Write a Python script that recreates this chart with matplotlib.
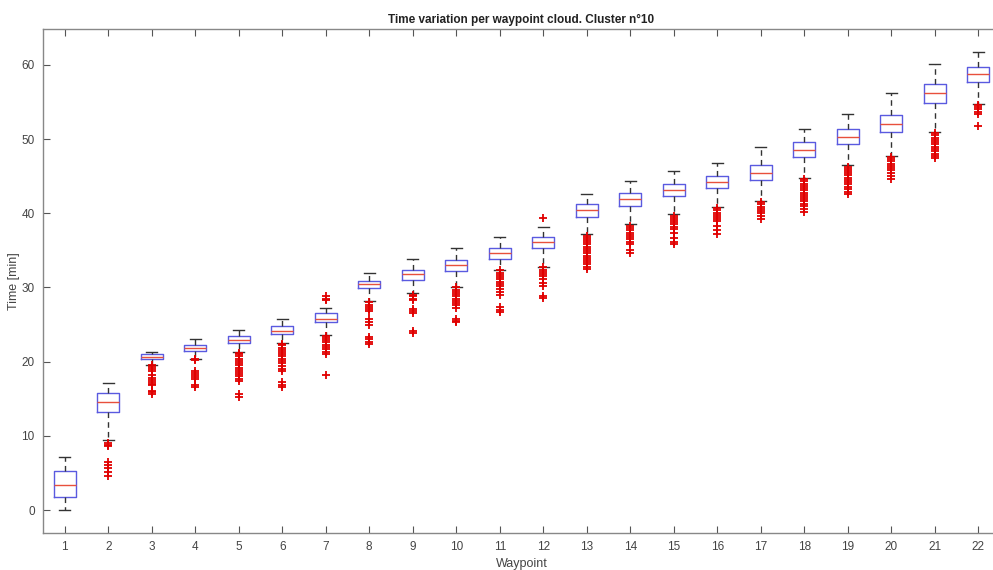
import matplotlib
matplotlib.use("Agg")
import matplotlib.pyplot as plt

plt.rcParams['font.family'] = ['Liberation Sans', 'DejaVu Sans']

# box statistics (minutes)
waypoints = list(range(1, 23))
medians = [3.4, 14.5, 20.6, 21.8, 22.9, 24.2, 25.8, 30.5, 31.8, 33.0, 34.6,
           36.1, 40.4, 41.9, 43.1, 44.2, 45.5, 48.5, 50.3, 52.0, 56.2, 58.8]
q1 = [1.7, 13.2, 20.3, 21.4, 22.5, 23.7, 25.4, 29.9, 31.0, 32.2, 33.8,
      35.3, 39.5, 41.0, 42.3, 43.4, 44.5, 47.6, 49.4, 50.9, 54.9, 57.7]
q3 = [5.2, 15.8, 21.0, 22.2, 23.4, 24.8, 26.5, 30.9, 32.3, 33.7, 35.3,
      36.8, 41.2, 42.7, 44.0, 45.0, 46.5, 49.6, 51.4, 53.2, 57.5, 59.7]
whisk_lo = [0.0, 9.4, 19.6, 20.4, 21.3, 22.5, 23.6, 28.2, 29.2, 30.1, 32.4,
            32.8, 37.2, 38.5, 39.9, 40.8, 41.6, 44.8, 46.5, 47.7, 51.0, 54.8]
whisk_hi = [7.1, 17.1, 21.3, 23.0, 24.3, 25.8, 27.3, 32.0, 33.8, 35.3, 36.8,
            38.2, 42.6, 44.4, 45.7, 46.8, 48.9, 51.4, 53.4, 56.2, 60.1, 61.8]
outliers = [
    [],
    [9.1, 8.8, 8.6, 6.5, 6.1, 5.6, 5.1, 4.6],
    [19.5, 19.3, 19.0, 18.7, 18.2, 17.8, 17.5, 17.2, 17.0, 16.8, 16.1, 15.9, 15.7],
    [20.3, 20.2, 18.8, 18.5, 18.2, 17.9, 17.6, 16.8, 16.6],
    [21.2, 21.0, 20.7, 20.4, 20.1, 19.8, 19.5, 19.2, 18.9, 18.6, 18.3, 18.0, 17.7, 17.4, 15.6, 15.3],
    [22.4, 22.2, 21.9, 21.6, 21.3, 21.0, 20.7, 20.4, 20.1, 19.8, 19.4, 19.0, 18.7, 17.2, 16.8, 16.6],
    [28.8, 28.5, 28.3, 23.5, 23.2, 22.9, 22.6, 22.3, 22.0, 21.7, 21.3, 21.0, 18.2],
    [28.0, 27.7, 27.4, 27.1, 26.8, 25.8, 25.4, 24.9, 23.3, 23.0, 22.7, 22.4],
    [29.0, 28.8, 28.5, 28.3, 27.1, 26.8, 26.5, 24.2, 23.9],
    [30.0, 29.7, 29.4, 29.1, 28.8, 28.5, 28.2, 27.9, 27.6, 27.3, 25.8, 25.5, 25.3],
    [32.3, 32.0, 31.7, 31.4, 31.1, 30.8, 30.5, 30.2, 29.8, 29.4, 29.0, 27.4, 27.0, 26.7],
    [39.4, 32.7, 32.4, 32.1, 31.8, 31.5, 31.2, 30.6, 30.2, 28.9, 28.6],
    [37.0, 36.7, 36.4, 36.1, 35.8, 35.5, 35.2, 34.9, 34.6, 34.3, 34.0, 33.7, 33.4, 33.1, 32.8, 32.5],
    [38.3, 38.0, 37.7, 37.4, 37.1, 36.8, 36.5, 36.2, 35.9, 35.0, 34.6],
    [39.7, 39.4, 39.1, 38.8, 38.5, 38.2, 37.9, 37.3, 36.7, 36.2, 35.8],
    [40.7, 40.4, 40.1, 39.8, 39.5, 39.2, 38.9, 38.3, 37.8, 37.2],
    [41.5, 41.2, 40.9, 40.6, 40.3, 40.0, 39.6, 39.2],
    [44.6, 44.3, 44.0, 43.7, 43.4, 43.1, 42.8, 42.5, 42.2, 41.9, 41.6, 41.3, 41.0, 40.6, 40.2],
    [46.3, 46.0, 45.7, 45.4, 45.1, 44.8, 44.5, 44.2, 43.9, 43.6, 43.3, 42.9, 42.6],
    [47.6, 47.3, 47.0, 46.7, 46.4, 46.1, 45.8, 45.4, 45.0, 44.6],
    [50.8, 50.5, 50.2, 49.9, 49.6, 49.3, 49.0, 48.7, 48.4, 48.0, 47.7, 47.4],
    [54.6, 54.3, 54.0, 53.7, 53.4, 51.8],
]

stats = []
for i in range(len(waypoints)):
    stats.append(dict(med=medians[i], q1=q1[i], q3=q3[i],
                      whislo=whisk_lo[i], whishi=whisk_hi[i],
                      fliers=outliers[i], label=str(waypoints[i])))

fig = plt.figure(figsize=(9.93, 5.70), dpi=100)
ax = fig.add_axes([43 / 993, 37 / 570, 957 / 993, 504 / 570])

ax.bxp(stats, positions=waypoints, widths=0.5, showfliers=True,
       boxprops=dict(color='#5a5ae0', linewidth=1.0),
       whiskerprops=dict(color='#333333', linestyle=(0, (4, 3)), linewidth=1.0),
       capprops=dict(color='#333333', linewidth=1.0),
       medianprops=dict(color='#e8503c', linewidth=1.0),
       flierprops=dict(marker='+', markeredgecolor='#e00000', markersize=6,
                       markeredgewidth=1.3, linestyle='none'))

ax.set_xlim(0.5, 22.5)
ax.set_ylim(-3.1, 64.85)
ax.set_yticks([0, 10, 20, 30, 40, 50, 60])
ax.set_xticks(waypoints)
ax.set_xticklabels([str(w) for w in waypoints])

ax.tick_params(direction='in', length=5, width=0.8, color='#555555',
               labelcolor='#444444', labelsize=8.5, top=True, right=True, pad=6)
for s in ax.spines.values():
    s.set_color('#888888')
    s.set_linewidth(1.0)

ax.set_title("Time variation per waypoint cloud. Cluster n°10", fontsize=8.5,
             fontweight='bold', color='#222222', pad=4)
ax.set_xlabel("Waypoint", fontsize=9, color='#444444', labelpad=3)
ax.set_ylabel("Time [min]", fontsize=9, color='#444444', labelpad=1)

fig.savefig("out.png", dpi=100)
